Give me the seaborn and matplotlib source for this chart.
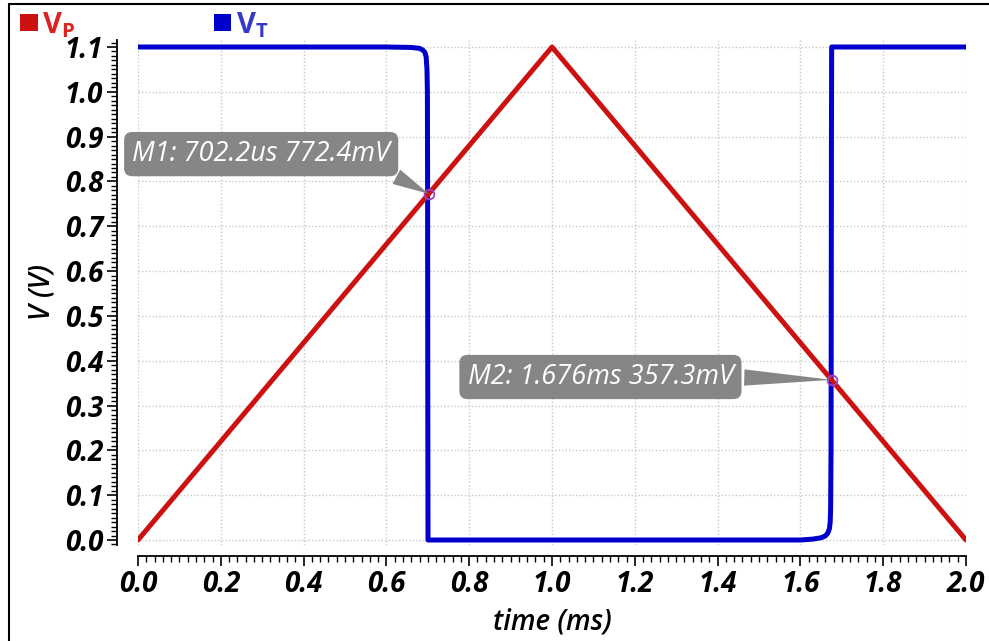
import matplotlib
matplotlib.use("Agg")
import matplotlib.pyplot as plt
import seaborn as sns
import numpy as np
import pandas as pd
from matplotlib.patches import Patch
from matplotlib.lines import Line2D
from matplotlib.ticker import MultipleLocator

# ---------------- data ----------------
t_p = [0.0, 1.0, 2.0]                 # ms
v_p = [0.0, 1.1, 0.0]                 # V

t_t = [0.0, 0.60, 0.66, 0.68, 0.688, 0.693, 0.696, 0.698, 0.699, 0.6995, 0.700, 0.7005,
       0.71, 1.0, 1.60, 1.63, 1.65, 1.66, 1.666, 1.670, 1.672, 1.673, 1.674, 1.6745,
       1.675, 1.6755, 1.70, 2.0]
v_t = [1.1, 1.1, 1.099, 1.097, 1.093, 1.088, 1.078, 1.05, 1.0, 0.8, 0.3, 0.0,
       0.0, 0.0, 0.0, 0.002, 0.005, 0.009, 0.015, 0.025, 0.04, 0.07, 0.2, 0.5,
       0.9, 1.1, 1.1, 1.1]

markers = ["M1", "M2"]
marker_t = [0.7022, 1.676]
marker_v = [0.7724, 0.3573]
marker_text = ["M1: 702.2us 772.4mV", "M2: 1.676ms 357.3mV"]
marker_box_xy = [(0.2975, 0.861), (1.117, 0.3637)]

x_ticks = [0.0, 0.2, 0.4, 0.6, 0.8, 1.0, 1.2, 1.4, 1.6, 1.8, 2.0]
y_ticks = [0.0, 0.1, 0.2, 0.3, 0.4, 0.5, 0.6, 0.7, 0.8, 0.9, 1.0, 1.1]

# ---------------- style ----------------
sns.set_theme(style="white")
plt.rcParams['font.family'] = ['Open Sans', 'DejaVu Sans']
plt.rcParams['mathtext.fontset'] = 'custom'
plt.rcParams['mathtext.rm'] = 'Open Sans'
plt.rcParams['mathtext.bf'] = 'Open Sans:bold'

RED = "#cc1111"
BLUE = "#0000cc"

fig = plt.figure(figsize=(9.89, 6.41), dpi=100)
ax = fig.add_axes([138/989, 1 - 545/641, 828/989, 505/641])

df_p = pd.DataFrame({"t": t_p, "v": v_p})
df_t = pd.DataFrame({"t": t_t, "v": v_t})
sns.lineplot(data=df_t, x="t", y="v", ax=ax, color=BLUE, linewidth=3.6,
             estimator=None, sort=False, zorder=3)
sns.lineplot(data=df_p, x="t", y="v", ax=ax, color=RED, linewidth=3.6,
             estimator=None, sort=False, zorder=4)

ax.set_xlim(0, 2.0)
ax.set_ylim(-5/448.2, 1.1 + 7/448.2)

ax.set_xticks(x_ticks)
ax.set_yticks(y_ticks)
ax.set_xticklabels([f"{v:.1f}" for v in x_ticks])
ax.set_yticklabels([f"{v:.1f}" for v in y_ticks])
ax.xaxis.set_minor_locator(MultipleLocator(0.02))
ax.yaxis.set_minor_locator(MultipleLocator(0.01))

for s in ["top", "right"]:
    ax.spines[s].set_visible(False)
ax.spines["left"].set_position(("outward", 15))
ax.spines["bottom"].set_position(("outward", 8))
for s in ["left", "bottom"]:
    ax.spines[s].set_color("black")
    ax.spines[s].set_linewidth(1.3)

ax.tick_params(axis="both", which="major", direction="out", length=7, width=1.2,
               color="black", labelsize=20, pad=3)
ax.tick_params(axis="both", which="minor", direction="out", length=4, width=1.0,
               color="black")
ax.tick_params(axis="both", which="both", left=True, bottom=True)
for lab in ax.get_xticklabels() + ax.get_yticklabels():
    lab.set_fontstyle("italic")
    lab.set_fontweight("bold")
    lab.set_color("black")

ax.grid(True, which="major", linestyle=(0, (1, 1.5)), color="#c8c8c8", linewidth=1.0)
ax.set_axisbelow(True)

ax.set_xlabel("time (ms)", fontsize=20, fontstyle="italic", fontweight="semibold",
              color="black", labelpad=6)
ax.set_ylabel("V (V)", fontsize=20, fontstyle="italic", fontweight="semibold",
              color="black", labelpad=6)

# markers and annotations
for name, mt, mv, txt, bxy, rp in zip(markers, marker_t, marker_v, marker_text,
                                      marker_box_xy, [(0.93, 0.15), (0.97, 0.5)]):
    ax.plot([mt], [mv], marker="o", ms=7, mfc="none", mec="#9a40c8", mew=1.3, zorder=6)
    ax.annotate(txt, xy=(mt, mv), xytext=bxy, textcoords="data",
                ha="center", va="center", fontsize=19.5, fontstyle="italic",
                color="white", zorder=7, annotation_clip=False,
                bbox=dict(boxstyle="round,pad=0.3,rounding_size=0.3",
                          fc="#808080", ec="none", alpha=0.95),
                arrowprops=dict(arrowstyle="wedge,tail_width=0.6,shrink_factor=0.5",
                                fc="#808080", ec="none", alpha=0.95,
                                relpos=rp, shrinkB=0))

# legend
handles = [Patch(facecolor=RED, edgecolor="none"), Patch(facecolor=BLUE, edgecolor="none")]
labels = [r"$\mathbf{V}_{\mathbf{P}}$", r"$\mathbf{V}_{\mathbf{T}}$"]
leg = fig.legend(handles, labels, loc="upper left", bbox_to_anchor=(-0.006, 1.025),
                 ncol=2, frameon=False, fontsize=21, handlelength=0.6,
                 handleheight=0.5, handletextpad=0.15, columnspacing=4.75)
for txt_obj, c in zip(leg.get_texts(), ["#dd2222", "#3838c8"]):
    txt_obj.set_color(c)

# figure border (left & top)
fig.add_artist(Line2D([9/989, 9/989], [0, 1 - 4/641], color="black", lw=1.5,
                      transform=fig.transFigure))
fig.add_artist(Line2D([9/989, 1], [1 - 4/641, 1 - 4/641], color="black", lw=1.5,
                      transform=fig.transFigure))

fig.savefig("out.png", dpi=100)
